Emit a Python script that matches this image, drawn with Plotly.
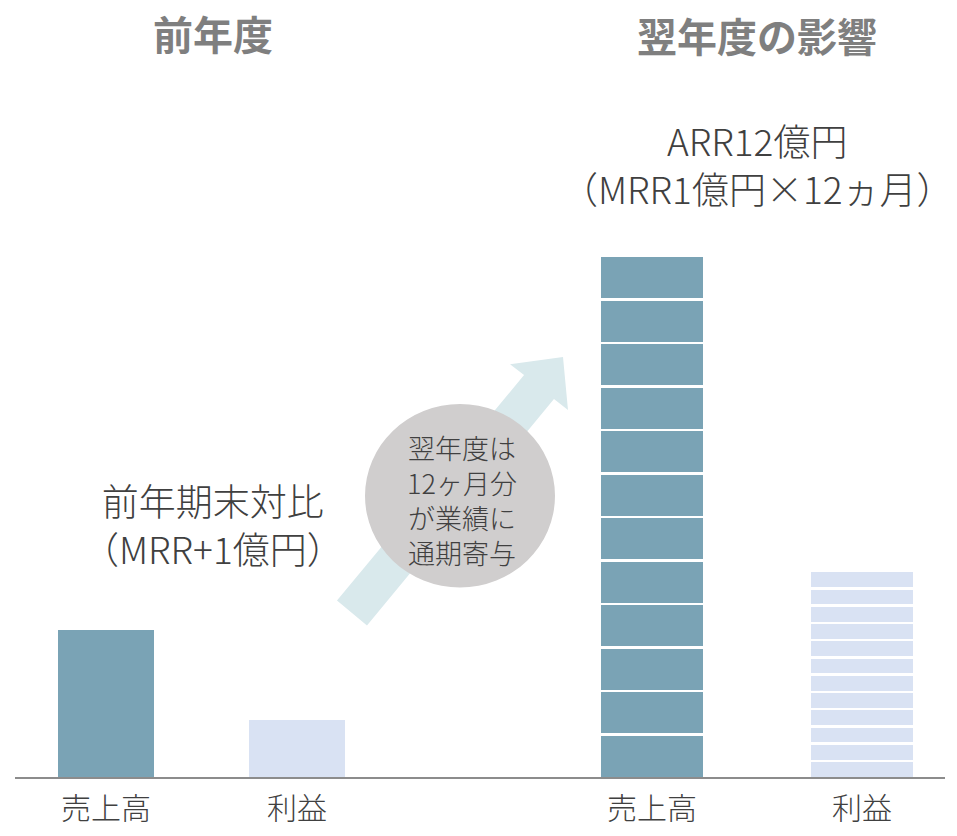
import plotly.graph_objects as go

# the page body keeps the browser's 8px margin, so the figure is shrunk by it
OFF = 8
W, H = 957 - 2 * OFF, 836 - 2 * OFF
FONT = "Noto Sans CJK JP"

# ---- data (arbitrary units = px height) ----
categories = ["売上高", "利益"]
prev_values = [148, 58]                      # 前年度: 売上高, 利益
next_sales_months = [43.6, 43.6, 43.6, 43.6, 43.6, 43.6,
                     43.6, 43.6, 43.6, 43.6, 43.6, 43.6]   # 翌年度 売上高 (12ヶ月)
next_profit_months = [17.3, 17.3, 17.3, 17.3, 17.3, 17.3,
                      17.3, 17.3, 17.3, 17.3, 17.3, 17.3]  # 翌年度 利益 (12ヶ月)

header_left = "前年度"
header_right = "翌年度の影響"
note_left = ["前年期末対比", "（MRR+1億円）"]
note_right = ["ARR12億円", "（MRR1億円×12ヵ月）"]
bubble_lines = ["翌年度は", "12ヶ月分", "が業績に", "通期寄与"]

SALES = "#7aa3b5"
PROFIT = "#d9e2f3"
ARROW = "#d9e9ec"
BUBBLE = "#d0cece"
HEAD = "#7f7f7f"
TEXT = "#404040"


def px(x, y):
    """window pixel -> paper coords (margins are zero)."""
    return (x - OFF) / W, 1 - (y - OFF) / H


fig = go.Figure()

fig.add_trace(go.Bar(
    x=categories, y=prev_values, width=0.5,
    marker=dict(color=[SALES, PROFIT], line=dict(width=0)),
    xaxis="x", yaxis="y", hoverinfo="skip",
))

for s, p in zip(next_sales_months, next_profit_months):
    fig.add_trace(go.Bar(
        x=categories, y=[s, p], width=0.5,
        marker=dict(color=[SALES, PROFIT], line=dict(color="white", width=2.5)),
        xaxis="x2", yaxis="y2", hoverinfo="skip",
    ))

# ---- decorations: arrow + bubble + baseline ----
arrow_pts = [(337, 602), (524, 376), (510, 365), (563, 358),
             (568, 411), (554, 400), (367, 627)]
path = "M " + " L ".join("%.4f,%.4f" % px(x, y) for x, y in arrow_pts) + " Z"

x0, y0 = px(365, 405)
x1, y1 = px(555, 589)
x_l, y_line = px(15, 780)
x_r, _ = px(945, 780)

shapes = [
    dict(type="path", xref="paper", yref="paper", path=path,
         fillcolor=ARROW, line=dict(width=0), layer="below"),
    dict(type="circle", xref="paper", yref="paper",
         x0=x0, y0=y1, x1=x1, y1=y0,
         fillcolor=BUBBLE, line=dict(width=0), layer="below"),
    dict(type="line", xref="paper", yref="paper",
         x0=x_l, x1=x_r, y0=y_line, y1=y_line,
         line=dict(color="#8c8c8c", width=2), layer="above"),
]


def ann(text, x, y, size, color, bold=False):
    ax, ay = px(x, y)
    return dict(
        text=f"<b>{text}</b>" if bold else text,
        x=ax, y=ay, xref="paper", yref="paper",
        xanchor="center", yanchor="middle", showarrow=False,
        font=dict(family=FONT, size=size, color=color,
                  weight=700 if bold else 300),
    )


annotations = [
    ann(header_left, 213, 33, 40, HEAD, bold=True),
    ann(header_right, 757, 35, 40, HEAD, bold=True),
    ann("<br>".join(note_right), 757, 164, 37, TEXT),
    ann("<br>".join(note_left), 213, 525, 37, TEXT),
    ann("<br>".join(bubble_lines), 462, 501, 27, TEXT),
]

left_x0, _ = px(10.5, 0)
left_x1, _ = px(392.5, 0)
right_x0, _ = px(547, 0)
right_x1, _ = px(946, 0)
_, base_y = px(0, 780)

axis_common = dict(
    type="category", showgrid=False, zeroline=False, showline=False,
    ticks="", ticklabelstandoff=10,
    tickfont=dict(family=FONT, size=30, color=TEXT, weight=300),
    fixedrange=True,
)
yaxis_common = dict(range=[0, 780 - OFF], visible=False, fixedrange=True,
                    domain=[base_y, 1])

fig.update_layout(
    width=W, height=H,
    margin=dict(l=0, r=0, t=0, b=0),
    paper_bgcolor="white", plot_bgcolor="rgba(0,0,0,0)",
    barmode="stack", showlegend=False,
    font=dict(family=FONT, color=TEXT),
    xaxis=dict(axis_common, domain=[left_x0, left_x1], range=[-0.5, 1.5],
               anchor="y"),
    xaxis2=dict(axis_common, domain=[right_x0, right_x1], range=[-0.5, 1.4],
                anchor="y2"),
    yaxis=dict(yaxis_common, anchor="x"),
    yaxis2=dict(yaxis_common, anchor="x2"),
    shapes=shapes,
    annotations=annotations,
)

fig.write_html("out.html")
